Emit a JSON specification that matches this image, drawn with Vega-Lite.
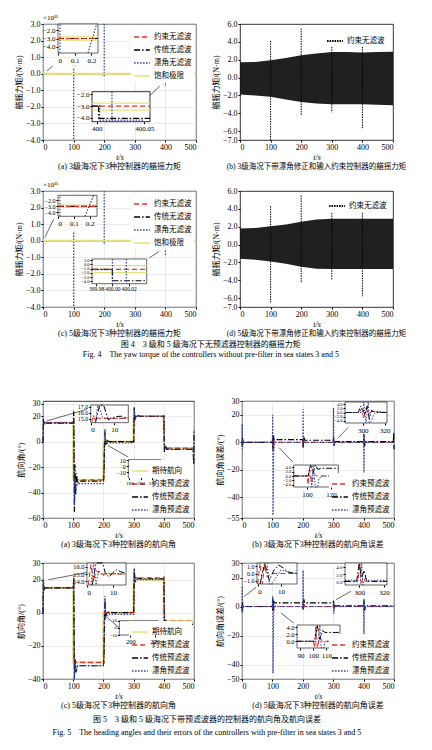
{
"$schema":"https://vega.github.io/schema/vega-lite/v6.json",
"background":"white",
"padding":{"left":15,"top":13,"right":0,"bottom":0},
"config":{
 "font":"Liberation Serif, Noto Sans CJK SC",
 "view":{"stroke":"#000","strokeWidth":0.8},
 "axis":{"labelFont":"Liberation Serif","titleFont":"Liberation Serif, Noto Sans CJK SC","labelFontSize":8,"titleFontSize":8,"titleFontWeight":"normal","labelColor":"#000","titleColor":"#000","tickColor":"#000","tickSize":2,"domain":false,"grid":true,"gridColor":"#d9d9d9","gridWidth":0.5,"labelPadding":1,"titlePadding":2,"labelOverlap":false,"tickCount":20},
 "legend":{"labelFont":"Liberation Serif, Noto Sans CJK SC","labelFontSize":7.5,"labelColor":"#000","symbolType":"stroke","symbolSize":250,"symbolStrokeWidth":1.5,"rowPadding":-1,"padding":2,"fillColor":"white","offset":2,"labelOffset":3},
 "title":{"font":"Liberation Serif, Noto Sans CJK SC","fontSize":8,"fontWeight":"normal","color":"#000","subtitleFont":"Liberation Serif, Noto Sans CJK SC","subtitleFontSize":8,"subtitleColor":"#000"},
 "text":{"font":"Liberation Serif, Noto Sans CJK SC"}
},
"datasets":{
 "f4a":[
  {"s":"传统无滤波","t":0,"t2":500,"y":0,"y2":0},
  {"s":"约束无滤波","t":0,"t2":500,"y":0,"y2":0},
  {"s":"饱和极限","t":0,"t2":500,"y":0,"y2":0},
  {"s":"漂角无滤波","t":100,"t2":100,"y":0.3,"y2":-4},
  {"s":"漂角无滤波","t":200,"t2":200,"y":3,"y2":-0.15},
  {"s":"漂角无滤波","t":300,"t2":300,"y":1,"y2":-0.05},
  {"s":"漂角无滤波","t":400,"t2":400,"y":0.3,"y2":-0.8}],
 "f4a_arr":[{"t":12,"t2":32,"y":0.16,"y2":0.47},{"t":347,"t2":382,"y":-1.35,"y2":-0.74}],
 "f4a_i1":[
  {"s":"饱和极限","t":0,"t2":0.24,"y":-2.8,"y2":-2.8},
  {"s":"饱和极限","t":0,"t2":0.24,"y":-3.2,"y2":-3.2},
  {"s":"传统无滤波","t":0,"t2":0.24,"y":-3,"y2":-3},
  {"s":"约束无滤波","t":0,"t2":0.24,"y":-3,"y2":-3},
  {"s":"漂角无滤波","t":0.012,"t2":0.012,"y":-4.8,"y2":-1.2},
  {"s":"漂角无滤波","t":0.18,"t2":0.232,"y":-4.8,"y2":-1.2}],
 "f4a_i2":[
  {"s":"饱和极限","t":399.995,"t2":400.056,"y":-2.75,"y2":-2.75},
  {"s":"饱和极限","t":399.995,"t2":400.056,"y":-3.35,"y2":-3.35},
  {"s":"约束无滤波","t":399.995,"t2":400.056,"y":-3,"y2":-3},
  {"s":"传统无滤波","t":399.995,"t2":400.002,"y":-3,"y2":-3},
  {"s":"传统无滤波","t":400.002,"t2":400.002,"y":-3,"y2":-4.1},
  {"s":"传统无滤波","t":400.002,"t2":400.056,"y":-4.05,"y2":-4.05},
  {"s":"漂角无滤波","t":400.003,"t2":400.003,"y":-2.9,"y2":-4.2},
  {"s":"漂角无滤波","t":400.003,"t2":400.05,"y":-4.2,"y2":-4.2},
  {"s":"漂角无滤波","t":400.016,"t2":400.016,"y":-1.77,"y2":-4.34}],
 "f4c":[
  {"s":"传统无滤波","t":0,"t2":500,"y":0,"y2":0},
  {"s":"约束无滤波","t":0,"t2":500,"y":0,"y2":0},
  {"s":"饱和极限","t":0,"t2":500,"y":0,"y2":0},
  {"s":"漂角无滤波","t":100,"t2":100,"y":0.5,"y2":-4},
  {"s":"漂角无滤波","t":200,"t2":200,"y":3,"y2":-0.2},
  {"s":"漂角无滤波","t":300,"t2":300,"y":0.8,"y2":0},
  {"s":"漂角无滤波","t":400,"t2":400,"y":0.5,"y2":-0.9}],
 "f4c_arr":[{"t":6,"t2":35,"y":0.2,"y2":1.3},{"t":347,"t2":380,"y":-1.04,"y2":-0.64}],
 "f4c_i1":[
  {"s":"饱和极限","t":0,"t2":0.246,"y":-2.8,"y2":-2.8},
  {"s":"饱和极限","t":0,"t2":0.246,"y":-3.2,"y2":-3.2},
  {"s":"传统无滤波","t":0,"t2":0.246,"y":-3,"y2":-3},
  {"s":"约束无滤波","t":0,"t2":0.246,"y":-3,"y2":-3},
  {"s":"漂角无滤波","t":0.012,"t2":0.012,"y":-4.67,"y2":-1.17},
  {"s":"漂角无滤波","t":0.17,"t2":0.225,"y":-4.67,"y2":-1.17}],
 "f4c_i2":[
  {"s":"饱和极限","t":399.975,"t2":400.042,"y":-0.3,"y2":-0.3},
  {"s":"饱和极限","t":399.975,"t2":400.042,"y":-1.95,"y2":-1.95},
  {"s":"传统无滤波","t":399.975,"t2":400.0,"y":-1.2,"y2":-1.2},
  {"s":"传统无滤波","t":400.0,"t2":400.0,"y":-1.2,"y2":-3.9},
  {"s":"传统无滤波","t":400.0,"t2":400.042,"y":-3.9,"y2":-3.9},
  {"s":"约束无滤波","t":399.975,"t2":400.042,"y":-1.2,"y2":-1.2},
  {"s":"漂角无滤波","t":399.975,"t2":400.0,"y":-1.25,"y2":-1.25},
  {"s":"漂角无滤波","t":400.0,"t2":400.0,"y":1.3,"y2":-4.6},
  {"s":"漂角无滤波","t":400.017,"t2":400.017,"y":1.3,"y2":-4.6}],
 "f4b":[
  {"t":0,"hi":1.7,"lo":-1.9},{"t":50,"hi":1.75,"lo":-2.0},{"t":100,"hi":1.95,"lo":-2.15},{"t":150,"hi":2.2,"lo":-2.45},
  {"t":200,"hi":2.5,"lo":-2.75},{"t":250,"hi":2.7,"lo":-2.9},{"t":300,"hi":2.85,"lo":-3.0},{"t":350,"hi":2.85,"lo":-3.0},
  {"t":400,"hi":2.8,"lo":-3.0},{"t":450,"hi":2.85,"lo":-3.05},{"t":500,"hi":2.9,"lo":-3.1}],
 "f4b_s":[
  {"s":"约束无滤波","t":100,"y":4.1,"y2":-7},{"s":"约束无滤波","t":200,"y":5.5,"y2":-4.3},
  {"s":"约束无滤波","t":300,"y":4.0,"y2":-3.9},{"s":"约束无滤波","t":400,"y":4.3,"y2":-5.8}],
 "f4d":[
  {"t":0,"hi":1.8,"lo":-1.6},{"t":50,"hi":1.85,"lo":-1.7},{"t":100,"hi":2.05,"lo":-1.9},{"t":150,"hi":2.25,"lo":-2.15},
  {"t":200,"hi":2.55,"lo":-2.5},{"t":250,"hi":2.8,"lo":-2.7},{"t":300,"hi":2.9,"lo":-2.75},{"t":350,"hi":2.9,"lo":-2.75},
  {"t":400,"hi":2.9,"lo":-2.75},{"t":450,"hi":2.9,"lo":-2.75},{"t":500,"hi":2.9,"lo":-2.75}],
 "f4d_s":[
  {"s":"约束无滤波","t":100,"y":4.3,"y2":-6.5},{"s":"约束无滤波","t":200,"y":5.5,"y2":-4.2},
  {"s":"约束无滤波","t":300,"y":5.5,"y2":-4.0},{"s":"约束无滤波","t":400,"y":4.4,"y2":-5.8}],
 "f5a":[
  {"s":"期待航向","t":0,"v":15},{"s":"期待航向","t":100,"v":15},{"s":"期待航向","t":100.3,"v":-30},{"s":"期待航向","t":200,"v":-30},{"s":"期待航向","t":200.3,"v":0},{"s":"期待航向","t":300,"v":0},{"s":"期待航向","t":300.3,"v":20},{"s":"期待航向","t":400,"v":20},{"s":"期待航向","t":400.3,"v":-5},{"s":"期待航向","t":500,"v":-5},
  {"s":"约束预滤波","t":0,"v":0},{"s":"约束预滤波","t":2,"v":16},{"s":"约束预滤波","t":4,"v":15},{"s":"约束预滤波","t":100,"v":15},{"s":"约束预滤波","t":101,"v":16},{"s":"约束预滤波","t":103,"v":-31},{"s":"约束预滤波","t":105,"v":-30},{"s":"约束预滤波","t":200,"v":-30},{"s":"约束预滤波","t":201,"v":-31},{"s":"约束预滤波","t":203,"v":1},{"s":"约束预滤波","t":205,"v":0},{"s":"约束预滤波","t":300,"v":0},{"s":"约束预滤波","t":301,"v":-1},{"s":"约束预滤波","t":303,"v":21},{"s":"约束预滤波","t":305,"v":20},{"s":"约束预滤波","t":400,"v":20},{"s":"约束预滤波","t":401,"v":21},{"s":"约束预滤波","t":403,"v":-6},{"s":"约束预滤波","t":405,"v":-5},{"s":"约束预滤波","t":500,"v":-5},
  {"s":"传统预滤波","t":0,"v":0},{"s":"传统预滤波","t":1,"v":18},{"s":"传统预滤波","t":3,"v":13},{"s":"传统预滤波","t":6,"v":15.5},{"s":"传统预滤波","t":10,"v":14.5},{"s":"传统预滤波","t":100,"v":14.5},{"s":"传统预滤波","t":102,"v":24},{"s":"传统预滤波","t":104,"v":-55},{"s":"传统预滤波","t":106,"v":-18},{"s":"传统预滤波","t":108,"v":-42},{"s":"传统预滤波","t":111,"v":-25},{"s":"传统预滤波","t":114,"v":-33},{"s":"传统预滤波","t":120,"v":-31},{"s":"传统预滤波","t":200,"v":-31},{"s":"传统预滤波","t":202,"v":-25},{"s":"传统预滤波","t":205,"v":8},{"s":"传统预滤波","t":208,"v":-3},{"s":"传统预滤波","t":212,"v":1},{"s":"传统预滤波","t":220,"v":0},{"s":"传统预滤波","t":300,"v":0},{"s":"传统预滤波","t":302,"v":27},{"s":"传统预滤波","t":305,"v":17},{"s":"传统预滤波","t":310,"v":21},{"s":"传统预滤波","t":320,"v":20},{"s":"传统预滤波","t":400,"v":20},{"s":"传统预滤波","t":402,"v":-8},{"s":"传统预滤波","t":405,"v":-3},{"s":"传统预滤波","t":410,"v":-6},{"s":"传统预滤波","t":497,"v":-6},{"s":"传统预滤波","t":499,"v":-18},{"s":"传统预滤波","t":500,"v":8},
  {"s":"漂角预滤波","t":0,"v":0},{"s":"漂角预滤波","t":1.5,"v":17},{"s":"漂角预滤波","t":3,"v":14},{"s":"漂角预滤波","t":6,"v":15},{"s":"漂角预滤波","t":100,"v":15},{"s":"漂角预滤波","t":102,"v":18},{"s":"漂角预滤波","t":104,"v":-50},{"s":"漂角预滤波","t":106,"v":-28},{"s":"漂角预滤波","t":109,"v":-36},{"s":"漂角预滤波","t":115,"v":-33},{"s":"漂角预滤波","t":200,"v":-33},{"s":"漂角预滤波","t":202,"v":-20},{"s":"漂角预滤波","t":205,"v":10},{"s":"漂角预滤波","t":208,"v":-2},{"s":"漂角预滤波","t":215,"v":-1},{"s":"漂角预滤波","t":300,"v":-1},{"s":"漂角预滤波","t":302,"v":25},{"s":"漂角预滤波","t":305,"v":18},{"s":"漂角预滤波","t":310,"v":20},{"s":"漂角预滤波","t":400,"v":20},{"s":"漂角预滤波","t":402,"v":-7},{"s":"漂角预滤波","t":406,"v":-4},{"s":"漂角预滤波","t":410,"v":-6},{"s":"漂角预滤波","t":497,"v":-6},{"s":"漂角预滤波","t":499,"v":-15},{"s":"漂角预滤波","t":500,"v":5}],
 "f5a_arr":[{"t":12,"t2":146,"v":16.3,"v2":25.5},{"t":215,"t2":282,"v":-3,"v2":-12}],
 "f5a_i1":[
  {"s":"期待航向","t":0.3,"v":14.3},{"s":"期待航向","t":0.4,"v":15},{"s":"期待航向","t":16,"v":15},
  {"s":"约束预滤波","t":0.5,"v":14.3},{"s":"约束预滤波","t":1,"v":15.6},{"s":"约束预滤波","t":2,"v":14.6},{"s":"约束预滤波","t":3,"v":15.1},{"s":"约束预滤波","t":5,"v":15},{"s":"约束预滤波","t":16,"v":15},
  {"s":"传统预滤波","t":2,"v":14.3},{"s":"传统预滤波","t":3.5,"v":16.8},{"s":"传统预滤波","t":4,"v":17.3},{"s":"传统预滤波","t":5.5,"v":17.3},{"s":"传统预滤波","t":6.5,"v":16},{"s":"传统预滤波","t":7.5,"v":14.8},{"s":"传统预滤波","t":9,"v":15.1},{"s":"传统预滤波","t":11,"v":15.35},{"s":"传统预滤波","t":13,"v":15.4},{"s":"传统预滤波","t":14.5,"v":15.2},{"s":"传统预滤波","t":16,"v":15.1},
  {"s":"漂角预滤波","t":2,"v":14.3},{"s":"漂角预滤波","t":3,"v":17.3},{"s":"漂角预滤波","t":4,"v":16.5},{"s":"漂角预滤波","t":5,"v":15.2},{"s":"漂角预滤波","t":7,"v":15.0},{"s":"漂角预滤波","t":9,"v":15.1},{"s":"漂角预滤波","t":16,"v":15.05}],
 "f5a_i2":[
  {"s":"期待航向","t":199.9,"v":-19},{"s":"期待航向","t":200,"v":0},{"s":"期待航向","t":236,"v":0},
  {"s":"约束预滤波","t":200.5,"v":-19},{"s":"约束预滤波","t":202,"v":1},{"s":"约束预滤波","t":204,"v":0},{"s":"约束预滤波","t":236,"v":0},
  {"s":"传统预滤波","t":201,"v":-19},{"s":"传统预滤波","t":203,"v":4},{"s":"传统预滤波","t":205,"v":10},{"s":"传统预滤波","t":207,"v":-3},{"s":"传统预滤波","t":210,"v":1},{"s":"传统预滤波","t":215,"v":0},{"s":"传统预滤波","t":236,"v":0},
  {"s":"漂角预滤波","t":202,"v":-19},{"s":"漂角预滤波","t":204,"v":6},{"s":"漂角预滤波","t":206,"v":11},{"s":"漂角预滤波","t":208,"v":-2},{"s":"漂角预滤波","t":212,"v":0.5},{"s":"漂角预滤波","t":220,"v":0},{"s":"漂角预滤波","t":236,"v":0}],
 "f5b":[
  {"s":"约束预滤波","t":0,"v":0},{"s":"约束预滤波","t":1,"v":3},{"s":"约束预滤波","t":2,"v":-2},{"s":"约束预滤波","t":4,"v":0},{"s":"约束预滤波","t":100,"v":0},{"s":"约束预滤波","t":101,"v":-4},{"s":"约束预滤波","t":102,"v":4},{"s":"约束预滤波","t":104,"v":-3},{"s":"约束预滤波","t":106,"v":1},{"s":"约束预滤波","t":108,"v":0},{"s":"约束预滤波","t":200,"v":0},{"s":"约束预滤波","t":201,"v":-3},{"s":"约束预滤波","t":203,"v":3},{"s":"约束预滤波","t":205,"v":0},{"s":"约束预滤波","t":300,"v":0},{"s":"约束预滤波","t":301,"v":2},{"s":"约束预滤波","t":303,"v":-3},{"s":"约束预滤波","t":305,"v":0},{"s":"约束预滤波","t":400,"v":0},{"s":"约束预滤波","t":401,"v":3},{"s":"约束预滤波","t":403,"v":-3},{"s":"约束预滤波","t":405,"v":0},{"s":"约束预滤波","t":500,"v":0},
  {"s":"传统预滤波","t":0,"v":0},{"s":"传统预滤波","t":1,"v":-3},{"s":"传统预滤波","t":2,"v":3},{"s":"传统预滤波","t":3,"v":-1},{"s":"传统预滤波","t":5,"v":0},{"s":"传统预滤波","t":100,"v":0},{"s":"传统预滤波","t":101,"v":5},{"s":"传统预滤波","t":102,"v":-6},{"s":"传统预滤波","t":104,"v":5},{"s":"传统预滤波","t":106,"v":2},{"s":"传统预滤波","t":200,"v":2},{"s":"传统预滤波","t":201,"v":-4},{"s":"传统预滤波","t":203,"v":4},{"s":"传统预滤波","t":206,"v":1.5},{"s":"传统预滤波","t":300,"v":1.5},{"s":"传统预滤波","t":301,"v":4},{"s":"传统预滤波","t":303,"v":-2},{"s":"传统预滤波","t":306,"v":0.5},{"s":"传统预滤波","t":400,"v":0.5},{"s":"传统预滤波","t":401,"v":6},{"s":"传统预滤波","t":403,"v":-3},{"s":"传统预滤波","t":406,"v":0.5},{"s":"传统预滤波","t":498,"v":0.5},{"s":"传统预滤波","t":499,"v":7},{"s":"传统预滤波","t":500,"v":-5},
  {"s":"漂角预滤波","t":0,"v":0},{"s":"漂角预滤波","t":0.5,"v":13},{"s":"漂角预滤波","t":1.5,"v":-5},{"s":"漂角预滤波","t":3,"v":2},{"s":"漂角预滤波","t":5,"v":0},{"s":"漂角预滤波","t":100,"v":0},{"s":"漂角预滤波","t":101,"v":20},{"s":"漂角预滤波","t":102,"v":-53},{"s":"漂角预滤波","t":104,"v":-10},{"s":"漂角预滤波","t":106,"v":-2},{"s":"漂角预滤波","t":110,"v":0},{"s":"漂角预滤波","t":200,"v":0},{"s":"漂角预滤波","t":201,"v":24},{"s":"漂角预滤波","t":202,"v":-2},{"s":"漂角预滤波","t":204,"v":1},{"s":"漂角预滤波","t":207,"v":0},{"s":"漂角预滤波","t":300,"v":0},{"s":"漂角预滤波","t":301,"v":25},{"s":"漂角预滤波","t":302,"v":-3},{"s":"漂角预滤波","t":304,"v":1},{"s":"漂角预滤波","t":307,"v":0},{"s":"漂角预滤波","t":400,"v":0},{"s":"漂角预滤波","t":401,"v":-25},{"s":"漂角预滤波","t":402,"v":4},{"s":"漂角预滤波","t":404,"v":-1},{"s":"漂角预滤波","t":407,"v":0},{"s":"漂角预滤波","t":500,"v":0}],
 "f5b_arr":[{"t":317,"t2":348,"v":3.3,"v2":10.6},{"t":122,"t2":167,"v":-3.9,"v2":-14.3}],
 "f5b_i1":[
  {"s":"约束预滤波","t":284,"v":0},{"s":"约束预滤波","t":297,"v":0},{"s":"约束预滤波","t":299,"v":2},{"s":"约束预滤波","t":301,"v":-3},{"s":"约束预滤波","t":303,"v":2},{"s":"约束预滤波","t":305,"v":-1},{"s":"约束预滤波","t":308,"v":0.5},{"s":"约束预滤波","t":322,"v":0},
  {"s":"传统预滤波","t":284,"v":0},{"s":"传统预滤波","t":296,"v":0},{"s":"传统预滤波","t":298,"v":3},{"s":"传统预滤波","t":300,"v":1.5},{"s":"传统预滤波","t":302,"v":-1},{"s":"传统预滤波","t":304,"v":3},{"s":"传统预滤波","t":306,"v":-3},{"s":"传统预滤波","t":308,"v":1},{"s":"传统预滤波","t":312,"v":0},{"s":"传统预滤波","t":322,"v":0},
  {"s":"漂角预滤波","t":284,"v":0},{"s":"漂角预滤波","t":300,"v":0},{"s":"漂角预滤波","t":301,"v":5},{"s":"漂角预滤波","t":303,"v":-5},{"s":"漂角预滤波","t":305,"v":5},{"s":"漂角预滤波","t":306,"v":-5},{"s":"漂角预滤波","t":308,"v":-4},{"s":"漂角预滤波","t":310,"v":-1},{"s":"漂角预滤波","t":313,"v":0.5},{"s":"漂角预滤波","t":322,"v":0}],
 "f5b_i2":[
  {"s":"约束预滤波","t":89,"v":0},{"s":"约束预滤波","t":100,"v":0},{"s":"约束预滤波","t":101,"v":-4},{"s":"约束预滤波","t":102,"v":4},{"s":"约束预滤波","t":104,"v":-3},{"s":"约束预滤波","t":106,"v":1},{"s":"约束预滤波","t":108,"v":0},{"s":"约束预滤波","t":126,"v":0},
  {"s":"传统预滤波","t":89,"v":0},{"s":"传统预滤波","t":101,"v":0},{"s":"传统预滤波","t":103,"v":5},{"s":"传统预滤波","t":105,"v":1},{"s":"传统预滤波","t":107,"v":5},{"s":"传统预滤波","t":109,"v":3},{"s":"传统预滤波","t":112,"v":3.5},{"s":"传统预滤波","t":126,"v":3.5},
  {"s":"漂角预滤波","t":89,"v":0},{"s":"漂角预滤波","t":103,"v":0},{"s":"漂角预滤波","t":104,"v":-5},{"s":"漂角预滤波","t":105,"v":5},{"s":"漂角预滤波","t":107,"v":-5},{"s":"漂角预滤波","t":109,"v":-5},{"s":"漂角预滤波","t":110,"v":-1},{"s":"漂角预滤波","t":113,"v":0},{"s":"漂角预滤波","t":126,"v":0}],
 "f5c":[
  {"s":"期待航向","t":0,"v":15},{"s":"期待航向","t":100,"v":15},{"s":"期待航向","t":100.3,"v":-30},{"s":"期待航向","t":200,"v":-30},{"s":"期待航向","t":200.3,"v":0},{"s":"期待航向","t":300,"v":0},{"s":"期待航向","t":300.3,"v":20},{"s":"期待航向","t":400,"v":20},{"s":"期待航向","t":400.3,"v":-5},{"s":"期待航向","t":500,"v":-5},
  {"s":"约束预滤波","t":0,"v":0},{"s":"约束预滤波","t":2,"v":16},{"s":"约束预滤波","t":4,"v":15},{"s":"约束预滤波","t":100,"v":15},{"s":"约束预滤波","t":101,"v":16},{"s":"约束预滤波","t":103,"v":-31},{"s":"约束预滤波","t":105,"v":-30},{"s":"约束预滤波","t":200,"v":-30},{"s":"约束预滤波","t":201,"v":-31},{"s":"约束预滤波","t":203,"v":1},{"s":"约束预滤波","t":205,"v":0},{"s":"约束预滤波","t":300,"v":0},{"s":"约束预滤波","t":301,"v":-1},{"s":"约束预滤波","t":303,"v":21.5},{"s":"约束预滤波","t":305,"v":21},{"s":"约束预滤波","t":400,"v":21},{"s":"约束预滤波","t":401,"v":22},{"s":"约束预滤波","t":403,"v":-6},{"s":"约束预滤波","t":405,"v":-5},{"s":"约束预滤波","t":500,"v":-5},
  {"s":"传统预滤波","t":0,"v":0},{"s":"传统预滤波","t":1,"v":20},{"s":"传统预滤波","t":3,"v":13},{"s":"传统预滤波","t":6,"v":15},{"s":"传统预滤波","t":100,"v":15},{"s":"传统预滤波","t":102,"v":21},{"s":"传统预滤波","t":104,"v":-40},{"s":"传统预滤波","t":106,"v":-28},{"s":"传统预滤波","t":109,"v":-36},{"s":"传统预滤波","t":114,"v":-32},{"s":"传统预滤波","t":200,"v":-32},{"s":"传统预滤波","t":202,"v":-28},{"s":"传统预滤波","t":205,"v":8},{"s":"传统预滤波","t":208,"v":-2},{"s":"传统预滤波","t":212,"v":0.5},{"s":"传统预滤波","t":220,"v":0},{"s":"传统预滤波","t":300,"v":0},{"s":"传统预滤波","t":302,"v":26},{"s":"传统预滤波","t":305,"v":19},{"s":"传统预滤波","t":310,"v":21},{"s":"传统预滤波","t":320,"v":20.5},{"s":"传统预滤波","t":400,"v":20.5},{"s":"传统预滤波","t":402,"v":-9},{"s":"传统预滤波","t":405,"v":-5},{"s":"传统预滤波","t":410,"v":-7},{"s":"传统预滤波","t":500,"v":-7},
  {"s":"漂角预滤波","t":0,"v":0},{"s":"漂角预滤波","t":1.5,"v":20},{"s":"漂角预滤波","t":3,"v":14},{"s":"漂角预滤波","t":6,"v":15},{"s":"漂角预滤波","t":100,"v":15},{"s":"漂角预滤波","t":102,"v":22},{"s":"漂角预滤波","t":104,"v":-40},{"s":"漂角预滤波","t":106,"v":-30},{"s":"漂角预滤波","t":110,"v":-34},{"s":"漂角预滤波","t":116,"v":-32},{"s":"漂角预滤波","t":200,"v":-32},{"s":"漂角预滤波","t":202,"v":-20},{"s":"漂角预滤波","t":205,"v":10},{"s":"漂角预滤波","t":208,"v":-3},{"s":"漂角预滤波","t":215,"v":-1},{"s":"漂角预滤波","t":300,"v":-1},{"s":"漂角预滤波","t":302,"v":27},{"s":"漂角预滤波","t":305,"v":18},{"s":"漂角预滤波","t":310,"v":20},{"s":"漂角预滤波","t":400,"v":20},{"s":"漂角预滤波","t":402,"v":-9},{"s":"漂角预滤波","t":406,"v":-4},{"s":"漂角预滤波","t":410,"v":-6},{"s":"漂角预滤波","t":500,"v":-6}],
 "f5c_arr":[{"t":18,"t2":148,"v":19.9,"v2":24.4},{"t":213,"t2":252,"v":-3,"v2":-9}],
 "f5c_i1":[
  {"s":"期待航向","t":0.3,"v":13.5},{"s":"期待航向","t":0.4,"v":15},{"s":"期待航向","t":15,"v":15},
  {"s":"约束预滤波","t":0.5,"v":13.5},{"s":"约束预滤波","t":1.5,"v":16.3},{"s":"约束预滤波","t":2.5,"v":14},{"s":"约束预滤波","t":3.5,"v":15.5},{"s":"约束预滤波","t":5,"v":15},{"s":"约束预滤波","t":15,"v":15},
  {"s":"传统预滤波","t":2,"v":13.5},{"s":"传统预滤波","t":3.5,"v":16.5},{"s":"传统预滤波","t":6,"v":16.5},{"s":"传统预滤波","t":7,"v":15.2},{"s":"传统预滤波","t":8.5,"v":14.6},{"s":"传统预滤波","t":10,"v":15.2},{"s":"传统预滤波","t":11.5,"v":15.6},{"s":"传统预滤波","t":13,"v":15.3},{"s":"传统预滤波","t":15,"v":15.1},
  {"s":"漂角预滤波","t":1.5,"v":13.5},{"s":"漂角预滤波","t":2.5,"v":16.5},{"s":"漂角预滤波","t":3.5,"v":13.5},{"s":"漂角预滤波","t":4.5,"v":15.5},{"s":"漂角预滤波","t":6,"v":14.8},{"s":"漂角预滤波","t":8,"v":15.1},{"s":"漂角预滤波","t":15,"v":15}],
 "f5c_i2":[
  {"s":"期待航向","t":199.9,"v":-10},{"s":"期待航向","t":200,"v":0},{"s":"期待航向","t":223,"v":0},
  {"s":"约束预滤波","t":200.5,"v":-10},{"s":"约束预滤波","t":202,"v":1},{"s":"约束预滤波","t":204,"v":0},{"s":"约束预滤波","t":223,"v":0},
  {"s":"传统预滤波","t":201,"v":-10},{"s":"传统预滤波","t":203,"v":9},{"s":"传统预滤波","t":205,"v":-3},{"s":"传统预滤波","t":208,"v":-4},{"s":"传统预滤波","t":223,"v":-4},
  {"s":"漂角预滤波","t":203,"v":-10},{"s":"漂角预滤波","t":205,"v":10},{"s":"漂角预滤波","t":206.5,"v":-2},{"s":"漂角预滤波","t":209,"v":-1},{"s":"漂角预滤波","t":223,"v":-1}],
 "f5d":[
  {"s":"约束预滤波","t":0,"v":0},{"s":"约束预滤波","t":1,"v":2},{"s":"约束预滤波","t":2,"v":-2},{"s":"约束预滤波","t":4,"v":0},{"s":"约束预滤波","t":100,"v":0},{"s":"约束预滤波","t":101,"v":-3},{"s":"约束预滤波","t":102,"v":4},{"s":"约束预滤波","t":104,"v":-2},{"s":"约束预滤波","t":106,"v":0},{"s":"约束预滤波","t":200,"v":0},{"s":"约束预滤波","t":201,"v":-2},{"s":"约束预滤波","t":203,"v":2},{"s":"约束预滤波","t":205,"v":0},{"s":"约束预滤波","t":300,"v":0},{"s":"约束预滤波","t":301,"v":2},{"s":"约束预滤波","t":303,"v":-2},{"s":"约束预滤波","t":305,"v":0},{"s":"约束预滤波","t":400,"v":0},{"s":"约束预滤波","t":401,"v":2},{"s":"约束预滤波","t":403,"v":-2},{"s":"约束预滤波","t":405,"v":0},{"s":"约束预滤波","t":500,"v":0},
  {"s":"传统预滤波","t":0,"v":0},{"s":"传统预滤波","t":1,"v":-4},{"s":"传统预滤波","t":2,"v":3},{"s":"传统预滤波","t":4,"v":0},{"s":"传统预滤波","t":100,"v":0},{"s":"传统预滤波","t":101,"v":6},{"s":"传统预滤波","t":102,"v":-3},{"s":"传统预滤波","t":104,"v":4},{"s":"传统预滤波","t":106,"v":2.5},{"s":"传统预滤波","t":200,"v":2.5},{"s":"传统预滤波","t":201,"v":-2},{"s":"传统预滤波","t":203,"v":5},{"s":"传统预滤波","t":206,"v":2.5},{"s":"传统预滤波","t":300,"v":2.5},{"s":"传统预滤波","t":301,"v":4},{"s":"传统预滤波","t":303,"v":-1},{"s":"传统预滤波","t":306,"v":0.5},{"s":"传统预滤波","t":400,"v":0.5},{"s":"传统预滤波","t":401,"v":5},{"s":"传统预滤波","t":403,"v":-3},{"s":"传统预滤波","t":406,"v":0.5},{"s":"传统预滤波","t":500,"v":0.5},
  {"s":"漂角预滤波","t":0,"v":0},{"s":"漂角预滤波","t":0.5,"v":14},{"s":"漂角预滤波","t":1.5,"v":-4},{"s":"漂角预滤波","t":3,"v":1},{"s":"漂角预滤波","t":5,"v":0},{"s":"漂角预滤波","t":100,"v":0},{"s":"漂角预滤波","t":101,"v":7},{"s":"漂角预滤波","t":102,"v":-46},{"s":"漂角预滤波","t":104,"v":-5},{"s":"漂角预滤波","t":106,"v":1},{"s":"漂角预滤波","t":110,"v":0},{"s":"漂角预滤波","t":200,"v":0},{"s":"漂角预滤波","t":201,"v":25},{"s":"漂角预滤波","t":202,"v":-2},{"s":"漂角预滤波","t":204,"v":1},{"s":"漂角预滤波","t":207,"v":0},{"s":"漂角预滤波","t":300,"v":0},{"s":"漂角预滤波","t":301,"v":3},{"s":"漂角预滤波","t":302,"v":-5},{"s":"漂角预滤波","t":304,"v":1},{"s":"漂角预滤波","t":307,"v":0},{"s":"漂角预滤波","t":400,"v":0},{"s":"漂角预滤波","t":401,"v":-22},{"s":"漂角预滤波","t":402,"v":4},{"s":"漂角预滤波","t":404,"v":-1},{"s":"漂角预滤波","t":407,"v":0},{"s":"漂角预滤波","t":500,"v":0}],
 "f5d_arr":[{"t":7.6,"t2":46,"v":7,"v2":13.2},{"t":309,"t2":359,"v":4.7,"v2":10.5},{"t":128,"t2":170,"v":-4.5,"v2":-11.4}],
 "f5d_i1":[
  {"s":"约束预滤波","t":0,"v":-1.5},{"s":"约束预滤波","t":1,"v":1.5},{"s":"约束预滤波","t":2,"v":-1.5},{"s":"约束预滤波","t":3,"v":1.2},{"s":"约束预滤波","t":4,"v":-0.5},{"s":"约束预滤波","t":6,"v":0},{"s":"约束预滤波","t":16.9,"v":0},
  {"s":"传统预滤波","t":1,"v":-1.5},{"s":"传统预滤波","t":3,"v":1.5},{"s":"传统预滤波","t":5,"v":-1},{"s":"传统预滤波","t":7,"v":0.5},{"s":"传统预滤波","t":9,"v":1.2},{"s":"传统预滤波","t":11,"v":0.8},{"s":"传统预滤波","t":13,"v":0.2},{"s":"传统预滤波","t":16.9,"v":0},
  {"s":"漂角预滤波","t":4,"v":1.5},{"s":"漂角预滤波","t":5,"v":-1.5},{"s":"漂角预滤波","t":6,"v":-1.5},{"s":"漂角预滤波","t":8,"v":-0.5},{"s":"漂角预滤波","t":10,"v":0.5},{"s":"漂角预滤波","t":12,"v":0.3},{"s":"漂角预滤波","t":16.9,"v":0}],
 "f5d_i2":[
  {"s":"约束预滤波","t":288.6,"v":0},{"s":"约束预滤波","t":299,"v":0},{"s":"约束预滤波","t":300.5,"v":5},{"s":"约束预滤波","t":301.5,"v":-1},{"s":"约束预滤波","t":303,"v":1},{"s":"约束预滤波","t":305,"v":0},{"s":"约束预滤波","t":322.4,"v":0},
  {"s":"传统预滤波","t":288.6,"v":0},{"s":"传统预滤波","t":298,"v":0},{"s":"传统预滤波","t":300,"v":5},{"s":"传统预滤波","t":302,"v":1},{"s":"传统预滤波","t":304,"v":3},{"s":"传统预滤波","t":306,"v":0},{"s":"传统预滤波","t":322.4,"v":0},
  {"s":"漂角预滤波","t":288.6,"v":0.3},{"s":"漂角预滤波","t":301,"v":0.3},{"s":"漂角预滤波","t":302,"v":5},{"s":"漂角预滤波","t":303,"v":-1},{"s":"漂角预滤波","t":305,"v":1},{"s":"漂角预滤波","t":307,"v":0.3},{"s":"漂角预滤波","t":322.4,"v":0.3}],
 "f5d_i3":[
  {"s":"约束预滤波","t":87.4,"v":0},{"s":"约束预滤波","t":100,"v":0},{"s":"约束预滤波","t":101,"v":-1.9},{"s":"约束预滤波","t":102,"v":4.6},{"s":"约束预滤波","t":103,"v":-1.9},{"s":"约束预滤波","t":105,"v":1},{"s":"约束预滤波","t":107,"v":0},{"s":"约束预滤波","t":120.5,"v":0},
  {"s":"传统预滤波","t":87.4,"v":0},{"s":"传统预滤波","t":101,"v":0},{"s":"传统预滤波","t":103,"v":4.6},{"s":"传统预滤波","t":105,"v":0.5},{"s":"传统预滤波","t":107,"v":3},{"s":"传统预滤波","t":109,"v":2.5},{"s":"传统预滤波","t":120.5,"v":2.5},
  {"s":"漂角预滤波","t":87.4,"v":0},{"s":"漂角预滤波","t":104,"v":0},{"s":"漂角预滤波","t":105,"v":4.6},{"s":"漂角预滤波","t":106,"v":-1.9},{"s":"漂角预滤波","t":108,"v":-1.9},{"s":"漂角预滤波","t":109,"v":0},{"s":"漂角预滤波","t":112,"v":0},{"s":"漂角预滤波","t":120.5,"v":0}]
},
"spacing":36,
"resolve":{"scale":{"color":"independent","strokeDash":"independent"}},
"vconcat":[
 {"title":{"text":"图 4　3 级和 5 级海况下无预滤器控制器的艏摇力矩","subtitle":"Fig. 4　The yaw torque of the controllers without pre-filter in sea states 3 and 5","orient":"bottom","anchor":"middle","frame":"bounds","offset":3,"subtitlePadding":2},
  "spacing":8,
  "resolve":{"scale":{"color":"independent","strokeDash":"independent"}},
  "vconcat":[
  {"spacing":14,"resolve":{"scale":{"color":"independent","strokeDash":"independent"}},"hconcat":[
   {"width":153,"height":116,
    "title":{"text":"(a) 3级海况下3种控制器的艏摇力矩","orient":"bottom","anchor":"middle","frame":"group","offset":2},
    "resolve":{"scale":{"x":"independent","y":"independent"}},
    "layer":[
     {"layer":[
      {"data":{"name":"f4a"},"transform":[{"filter":"datum.s!=='饱和极限'"}],"mark":{"type":"rule","strokeWidth":1.2},"encoding":{
        "x":{"field":"t","type":"quantitative","scale":{"domain":[0,500],"nice":false},"axis":{"title":"t/s","titleFontStyle":"italic","values":[0,100,200,300,400,500],"labelOverlap":false,"tickCount":20}},
        "x2":{"field":"t2"},
        "y":{"field":"y","type":"quantitative","scale":{"domain":[-4,3],"nice":false,"zero":false},"axis":{"title":"艏摇力矩/(N·m)","values":[-4,-3,-2,-1,0,1,2,3],"labelOverlap":false,"tickCount":20}},
        "y2":{"field":"y2"},
        "color":{"field":"s","type":"nominal","scale":{"domain":["约束无滤波","传统无滤波","漂角无滤波","饱和极限"],"range":["#e4302a","#000000","#2f3f9e","#e3e37a"]},"legend":{"orient":"top-right","title":null}},
        "strokeDash":{"field":"s","type":"nominal","scale":{"domain":["约束无滤波","传统无滤波","漂角无滤波","饱和极限"],"range":[[5,3],[6,2,1.5,2],[1.5,1.5],[1,0]]},"legend":{"orient":"top-right","title":null}}}},
      {"data":{"name":"f4a"},"transform":[{"filter":"datum.s==='饱和极限'"}],"mark":{"type":"rule","strokeWidth":2},"encoding":{
        "x":{"field":"t","type":"quantitative"},"x2":{"field":"t2"},"y":{"field":"y","type":"quantitative"},"y2":{"field":"y2"},
        "color":{"field":"s","type":"nominal","scale":{"domain":["约束无滤波","传统无滤波","漂角无滤波","饱和极限"],"range":["#e4302a","#000000","#2f3f9e","#e3e37a"]},"legend":{"orient":"top-right","title":null}},
        "strokeDash":{"field":"s","type":"nominal","scale":{"domain":["约束无滤波","传统无滤波","漂角无滤波","饱和极限"],"range":[[5,3],[6,2,1.5,2],[1.5,1.5],[1,0]]},"legend":{"orient":"top-right","title":null}}}},
      {"data":{"name":"f4a_arr"},"mark":{"type":"rule","color":"#000","strokeWidth":0.6},"encoding":{"x":{"field":"t","type":"quantitative"},"x2":{"field":"t2"},"y":{"field":"y","type":"quantitative"},"y2":{"field":"y2"}}},
      {"data":{"values":[{}]},"mark":{"type":"text","text":"×10¹¹","align":"left","baseline":"bottom","dy":-3,"fontSize":7},"encoding":{"x":{"datum":0,"type":"quantitative"},"y":{"datum":3,"type":"quantitative"}}}
     ]},
     {"layer":[
      {"data":{"values":[{}]},"mark":{"type":"rect","fill":"white","stroke":"#000","strokeWidth":0.6},"encoding":{
        "x":{"datum":0,"type":"quantitative","scale":{"domain":[0,0.24],"range":[15,55],"nice":false,"zero":false},"axis":{"orient":"bottom","offset":-87,"values":[0,0.1,0.2],"format":"~g","grid":false,"title":null,"labelFontSize":7,"zindex":1,"labelOverlap":false,"tickCount":20}},
        "x2":{"datum":0.24},
        "y":{"datum":-4.8,"type":"quantitative","scale":{"domain":[-4.8,-1.2],"range":[29,0],"nice":false,"zero":false},"axis":{"orient":"left","offset":-15,"values":[-4,-3,-2],"grid":false,"title":null,"labelFontSize":7,"zindex":1,"labelOverlap":false,"tickCount":20}},
        "y2":{"datum":-1.2}}},
      {"data":{"name":"f4a_i1"},"mark":{"type":"rule","strokeWidth":1.2},"encoding":{
        "x":{"field":"t","type":"quantitative"},"x2":{"field":"t2"},"y":{"field":"y","type":"quantitative"},"y2":{"field":"y2"},
        "color":{"field":"s","type":"nominal","scale":{"domain":["约束无滤波","传统无滤波","漂角无滤波","饱和极限"],"range":["#e4302a","#000000","#2f3f9e","#e3e37a"]},"legend":{"orient":"top-right","title":null}},
        "strokeDash":{"field":"s","type":"nominal","scale":{"domain":["约束无滤波","传统无滤波","漂角无滤波","饱和极限"],"range":[[5,3],[6,2,1.5,2],[1.5,1.5],[1,0]]},"legend":{"orient":"top-right","title":null}}}}
     ]},
     {"layer":[
      {"data":{"values":[{}]},"mark":{"type":"rect","fill":"white","stroke":"#000","strokeWidth":0.8},"encoding":{
        "x":{"datum":399.995,"type":"quantitative","scale":{"domain":[399.995,400.056],"range":[49,107],"nice":false,"zero":false},"axis":{"orient":"bottom","offset":-18.3,"values":[400,400.05],"format":"~f","grid":false,"title":null,"labelFontSize":7,"zindex":1,"labelOverlap":false,"tickCount":20}},
        "x2":{"datum":400.056},
        "y":{"datum":-4.34,"type":"quantitative","scale":{"domain":[-4.34,-1.77],"range":[97.7,67.7],"nice":false,"zero":false},"axis":{"orient":"left","offset":-49,"values":[-4,-3,-2],"grid":false,"title":null,"labelFontSize":7,"zindex":1,"labelOverlap":false,"tickCount":20}},
        "y2":{"datum":-1.77}}},
      {"data":{"name":"f4a_i2"},"mark":{"type":"rule","strokeWidth":1.2},"encoding":{
        "x":{"field":"t","type":"quantitative"},"x2":{"field":"t2"},"y":{"field":"y","type":"quantitative"},"y2":{"field":"y2"},
        "color":{"field":"s","type":"nominal","scale":{"domain":["约束无滤波","传统无滤波","漂角无滤波","饱和极限"],"range":["#e4302a","#000000","#2f3f9e","#e3e37a"]},"legend":{"orient":"top-right","title":null}},
        "strokeDash":{"field":"s","type":"nominal","scale":{"domain":["约束无滤波","传统无滤波","漂角无滤波","饱和极限"],"range":[[5,3],[6,2,1.5,2],[1.5,1.5],[1,0]]},"legend":{"orient":"top-right","title":null}}}}
     ]}
    ]},
   {"width":153,"height":116,
    "title":{"text":"(b) 3级海况下带漂角修正和输入约束控制器的艏摇力矩","orient":"bottom","anchor":"middle","frame":"group","offset":2,"fontSize":7.5},
    "layer":[
     {"data":{"name":"f4b"},"mark":{"type":"area","color":"#141414","opacity":0.95},"encoding":{
       "x":{"field":"t","type":"quantitative","scale":{"domain":[0,500],"nice":false},"axis":{"title":"t/s","titleFontStyle":"italic","values":[0,100,200,300,400,500],"grid":false,"labelOverlap":false,"tickCount":20}},
       "y":{"field":"hi","type":"quantitative","scale":{"domain":[-7,6],"nice":false,"zero":false},"axis":{"title":"艏摇力矩/(N·m)","values":[-7,-6,-4,-2,0,2,4,6],"grid":false,"labelOverlap":false,"tickCount":20}},
       "y2":{"field":"lo"}}},
     {"data":{"name":"f4b_s"},"mark":{"type":"rule","strokeWidth":1},"encoding":{
       "x":{"field":"t","type":"quantitative"},"y":{"field":"y","type":"quantitative"},"y2":{"field":"y2"},
       "color":{"field":"s","type":"nominal","scale":{"domain":["约束无滤波"],"range":["#000000"]},"legend":{"orient":"top-right","title":null,"offset":6,"symbolStrokeWidth":2}},
       "strokeDash":{"field":"s","type":"nominal","scale":{"domain":["约束无滤波"],"range":[[1.5,1]]},"legend":{"orient":"top-right","title":null,"offset":6}}}}
    ]}
  ]},
  {"spacing":14,"resolve":{"scale":{"color":"independent","strokeDash":"independent"}},"hconcat":[
   {"width":153,"height":116,
    "title":{"text":"(c) 5级海况下3种控制器的艏摇力矩","orient":"bottom","anchor":"middle","frame":"group","offset":2},
    "resolve":{"scale":{"x":"independent","y":"independent"}},
    "layer":[
     {"layer":[
      {"data":{"name":"f4c"},"transform":[{"filter":"datum.s!=='饱和极限'"}],"mark":{"type":"rule","strokeWidth":1.2},"encoding":{
        "x":{"field":"t","type":"quantitative","scale":{"domain":[0,500],"nice":false},"axis":{"title":"t/s","titleFontStyle":"italic","values":[0,100,200,300,400,500],"labelOverlap":false,"tickCount":20}},
        "x2":{"field":"t2"},
        "y":{"field":"y","type":"quantitative","scale":{"domain":[-4,3],"nice":false,"zero":false},"axis":{"title":"艏摇力矩/(N·m)","values":[-4,-3,-2,-1,0,1,2,3],"labelOverlap":false,"tickCount":20}},
        "y2":{"field":"y2"},
        "color":{"field":"s","type":"nominal","scale":{"domain":["约束无滤波","传统无滤波","漂角无滤波","饱和极限"],"range":["#e4302a","#000000","#2f3f9e","#e3e37a"]},"legend":{"orient":"top-right","title":null}},
        "strokeDash":{"field":"s","type":"nominal","scale":{"domain":["约束无滤波","传统无滤波","漂角无滤波","饱和极限"],"range":[[5,3],[6,2,1.5,2],[1.5,1.5],[1,0]]},"legend":{"orient":"top-right","title":null}}}},
      {"data":{"name":"f4c"},"transform":[{"filter":"datum.s==='饱和极限'"}],"mark":{"type":"rule","strokeWidth":2},"encoding":{
        "x":{"field":"t","type":"quantitative"},"x2":{"field":"t2"},"y":{"field":"y","type":"quantitative"},"y2":{"field":"y2"},
        "color":{"field":"s","type":"nominal","scale":{"domain":["约束无滤波","传统无滤波","漂角无滤波","饱和极限"],"range":["#e4302a","#000000","#2f3f9e","#e3e37a"]},"legend":{"orient":"top-right","title":null}},
        "strokeDash":{"field":"s","type":"nominal","scale":{"domain":["约束无滤波","传统无滤波","漂角无滤波","饱和极限"],"range":[[5,3],[6,2,1.5,2],[1.5,1.5],[1,0]]},"legend":{"orient":"top-right","title":null}}}},
      {"data":{"name":"f4c_arr"},"mark":{"type":"rule","color":"#000","strokeWidth":0.6},"encoding":{"x":{"field":"t","type":"quantitative"},"x2":{"field":"t2"},"y":{"field":"y","type":"quantitative"},"y2":{"field":"y2"}}},
      {"data":{"values":[{}]},"mark":{"type":"text","text":"×10¹¹","align":"left","baseline":"bottom","dy":-3,"fontSize":7},"encoding":{"x":{"datum":0,"type":"quantitative"},"y":{"datum":3,"type":"quantitative"}}}
     ]},
     {"layer":[
      {"data":{"values":[{}]},"mark":{"type":"rect","fill":"white","stroke":"#000","strokeWidth":0.6},"encoding":{
        "x":{"datum":0,"type":"quantitative","scale":{"domain":[0,0.246],"range":[15,54],"nice":false,"zero":false},"axis":{"orient":"bottom","offset":-90.7,"values":[0,0.1,0.2],"format":"~g","grid":false,"title":null,"labelFontSize":7,"zindex":1,"labelOverlap":false,"tickCount":20}},
        "x2":{"datum":0.246},
        "y":{"datum":-4.67,"type":"quantitative","scale":{"domain":[-4.67,-1.17],"range":[25.3,4.3],"nice":false,"zero":false},"axis":{"orient":"left","offset":-15,"values":[-4,-3,-2],"grid":false,"title":null,"labelFontSize":6,"zindex":1,"labelOverlap":false,"tickCount":20}},
        "y2":{"datum":-1.17}}},
      {"data":{"name":"f4c_i1"},"mark":{"type":"rule","strokeWidth":1.2},"encoding":{
        "x":{"field":"t","type":"quantitative"},"x2":{"field":"t2"},"y":{"field":"y","type":"quantitative"},"y2":{"field":"y2"},
        "color":{"field":"s","type":"nominal","scale":{"domain":["约束无滤波","传统无滤波","漂角无滤波","饱和极限"],"range":["#e4302a","#000000","#2f3f9e","#e3e37a"]},"legend":{"orient":"top-right","title":null}},
        "strokeDash":{"field":"s","type":"nominal","scale":{"domain":["约束无滤波","传统无滤波","漂角无滤波","饱和极限"],"range":[[5,3],[6,2,1.5,2],[1.5,1.5],[1,0]]},"legend":{"orient":"top-right","title":null}}}}
     ]},
     {"layer":[
      {"data":{"values":[{}]},"mark":{"type":"rect","fill":"white","stroke":"#000","strokeWidth":0.6},"encoding":{
        "x":{"datum":399.975,"type":"quantitative","scale":{"domain":[399.975,400.042],"range":[49,103.7],"nice":false,"zero":false},"axis":{"orient":"bottom","offset":-23.3,"values":[399.98,400,400.02],"format":".2f","grid":false,"title":null,"labelFontSize":5.5,"zindex":1,"labelOverlap":false,"tickCount":20}},
        "x2":{"datum":400.042},
        "y":{"datum":-4.6,"type":"quantitative","scale":{"domain":[-4.6,1.3],"range":[92.7,68],"nice":false,"zero":false},"axis":{"orient":"left","offset":-49,"values":[-4,-3,-2,-1,0,1],"grid":false,"title":null,"labelFontSize":4.5,"zindex":1,"labelOverlap":false,"tickCount":20}},
        "y2":{"datum":1.3}}},
      {"data":{"name":"f4c_i2"},"mark":{"type":"rule","strokeWidth":1.2},"encoding":{
        "x":{"field":"t","type":"quantitative"},"x2":{"field":"t2"},"y":{"field":"y","type":"quantitative"},"y2":{"field":"y2"},
        "color":{"field":"s","type":"nominal","scale":{"domain":["约束无滤波","传统无滤波","漂角无滤波","饱和极限"],"range":["#e4302a","#000000","#2f3f9e","#e3e37a"]},"legend":{"orient":"top-right","title":null}},
        "strokeDash":{"field":"s","type":"nominal","scale":{"domain":["约束无滤波","传统无滤波","漂角无滤波","饱和极限"],"range":[[5,3],[6,2,1.5,2],[1.5,1.5],[1,0]]},"legend":{"orient":"top-right","title":null}}}}
     ]}
    ]},
   {"width":153,"height":116,
    "title":{"text":"(d) 5级海况下带漂角修正和输入约束控制器的艏摇力矩","orient":"bottom","anchor":"middle","frame":"group","offset":2,"fontSize":7.5},
    "layer":[
     {"data":{"name":"f4d"},"mark":{"type":"area","color":"#141414","opacity":0.95},"encoding":{
       "x":{"field":"t","type":"quantitative","scale":{"domain":[0,500],"nice":false},"axis":{"title":"t/s","titleFontStyle":"italic","values":[0,100,200,300,400,500],"grid":false,"labelOverlap":false,"tickCount":20}},
       "y":{"field":"hi","type":"quantitative","scale":{"domain":[-7,6],"nice":false,"zero":false},"axis":{"title":"艏摇力矩/(N·m)","values":[-7,-6,-4,-2,0,2,4,6],"grid":false,"labelOverlap":false,"tickCount":20}},
       "y2":{"field":"lo"}}},
     {"data":{"name":"f4d_s"},"mark":{"type":"rule","strokeWidth":1},"encoding":{
       "x":{"field":"t","type":"quantitative"},"y":{"field":"y","type":"quantitative"},"y2":{"field":"y2"},
       "color":{"field":"s","type":"nominal","scale":{"domain":["约束无滤波"],"range":["#000000"]},"legend":{"orient":"top-right","title":null,"offset":4,"symbolStrokeWidth":2}},
       "strokeDash":{"field":"s","type":"nominal","scale":{"domain":["约束无滤波"],"range":[[1.5,1]]},"legend":{"orient":"top-right","title":null,"offset":4}}}}
    ]}
  ]}
 ]},
 {"title":{"text":"图 5　3 级和 5 级海况下带预滤波器的控制器的航向角及航向误差","subtitle":"Fig. 5　The heading angles and their errors of the controllers with pre-filter in sea states 3 and 5","orient":"bottom","anchor":"middle","frame":"bounds","offset":6,"subtitlePadding":5},
  "spacing":8,
  "resolve":{"scale":{"color":"independent","strokeDash":"independent"}},
  "vconcat":[
   {"spacing":17,"resolve":{"scale":{"color":"independent","strokeDash":"independent"}},"hconcat":[
    {"width":151,"height":117,
     "title":{"text":"(a) 3级海况下3种控制器的航向角","orient":"bottom","anchor":"middle","frame":"group","offset":2},
     "resolve":{"scale":{"x":"independent","y":"independent"}},
     "layer":[
      {"layer":[
       {"data":{"name":"f5a"},"transform":[{"filter":"datum.s==='期待航向'"}],"mark":{"type":"line","strokeWidth":2.2},"encoding":{
         "x":{"field":"t","type":"quantitative","scale":{"domain":[0,500],"nice":false},"axis":{"title":"t/s","titleFontStyle":"italic","values":[0,100,200,300,400,500],"labelOverlap":false,"tickCount":20}},
         "y":{"field":"v","type":"quantitative","scale":{"domain":[-60,32],"nice":false,"zero":false},"axis":{"title":"航向角/(°)","values":[-60,-40,-20,0,20,30],"labelOverlap":false,"tickCount":20}},
         "color":{"field":"s","type":"nominal","scale":{"domain":["期待航向","约束预滤波","传统预滤波","漂角预滤波"],"range":["#e3e37a","#e4302a","#000000","#2f3f9e"]},"legend":{"orient":"bottom-right","title":null}},
         "strokeDash":{"field":"s","type":"nominal","scale":{"domain":["期待航向","约束预滤波","传统预滤波","漂角预滤波"],"range":[[1,0],[5,3],[6,2,1.5,2],[1.5,1.5]]},"legend":{"orient":"bottom-right","title":null}}}},
       {"data":{"name":"f5a"},"transform":[{"filter":"datum.s!=='期待航向'"}],"mark":{"type":"line","strokeWidth":1.2},"encoding":{
         "x":{"field":"t","type":"quantitative"},"y":{"field":"v","type":"quantitative"},
         "color":{"field":"s","type":"nominal","scale":{"domain":["期待航向","约束预滤波","传统预滤波","漂角预滤波"],"range":["#e3e37a","#e4302a","#000000","#2f3f9e"]},"legend":{"orient":"bottom-right","title":null}},
         "strokeDash":{"field":"s","type":"nominal","scale":{"domain":["期待航向","约束预滤波","传统预滤波","漂角预滤波"],"range":[[1,0],[5,3],[6,2,1.5,2],[1.5,1.5]]},"legend":{"orient":"bottom-right","title":null}}}},
       {"data":{"name":"f5a_arr"},"mark":{"type":"rule","color":"#000","strokeWidth":0.6},"encoding":{"x":{"field":"t","type":"quantitative"},"x2":{"field":"t2"},"y":{"field":"v","type":"quantitative"},"y2":{"field":"v2"}}}
      ]},
      {"layer":[
       {"data":{"values":[{}]},"mark":{"type":"rect","fill":"white","stroke":"#000","strokeWidth":0.6},"encoding":{
         "x":{"datum":0,"type":"quantitative","scale":{"domain":[0,16],"range":[47.7,85.3],"nice":false,"zero":false},"axis":{"orient":"bottom","offset":-95.3,"values":[0,10],"grid":false,"title":null,"labelFontSize":7,"zindex":1,"labelOverlap":false,"tickCount":20}},
         "x2":{"datum":16},
         "y":{"datum":14.3,"type":"quantitative","scale":{"domain":[14.3,17.3],"range":[21.7,4],"nice":false,"zero":false},"axis":{"orient":"left","offset":-47.7,"values":[15,16,17],"grid":false,"title":null,"labelFontSize":6,"zindex":1,"labelOverlap":false,"tickCount":20}},
         "y2":{"datum":17.3}}},
       {"data":{"name":"f5a_i1"},"mark":{"type":"line","strokeWidth":1},"encoding":{
         "x":{"field":"t","type":"quantitative"},"y":{"field":"v","type":"quantitative"},
         "color":{"field":"s","type":"nominal","scale":{"domain":["期待航向","约束预滤波","传统预滤波","漂角预滤波"],"range":["#e3e37a","#e4302a","#000000","#2f3f9e"]},"legend":{"orient":"bottom-right","title":null}},
         "strokeDash":{"field":"s","type":"nominal","scale":{"domain":["期待航向","约束预滤波","传统预滤波","漂角预滤波"],"range":[[1,0],[5,3],[6,2,1.5,2],[1.5,1.5]]},"legend":{"orient":"bottom-right","title":null}}}}
      ]},
      {"layer":[
       {"data":{"values":[{}]},"mark":{"type":"rect","fill":"white","stroke":"#000","strokeWidth":0.6},"encoding":{
         "x":{"datum":178,"type":"quantitative","scale":{"domain":[178,236],"range":[85.3,117.7],"nice":false,"zero":false},"axis":{"orient":"bottom","offset":-40.3,"values":[180,200,220],"grid":false,"title":null,"labelFontSize":5,"zindex":1,"labelOverlap":false,"tickCount":20}},
         "x2":{"datum":236},
         "y":{"datum":-19,"type":"quantitative","scale":{"domain":[-19,11],"range":[76.7,58.7],"nice":false,"zero":false},"axis":{"orient":"left","offset":-85.3,"values":[-10,0,10],"grid":false,"title":null,"labelFontSize":6,"zindex":1,"labelOverlap":false,"tickCount":20}},
         "y2":{"datum":11}}},
       {"data":{"name":"f5a_i2"},"mark":{"type":"line","strokeWidth":1},"encoding":{
         "x":{"field":"t","type":"quantitative"},"y":{"field":"v","type":"quantitative"},
         "color":{"field":"s","type":"nominal","scale":{"domain":["期待航向","约束预滤波","传统预滤波","漂角预滤波"],"range":["#e3e37a","#e4302a","#000000","#2f3f9e"]},"legend":{"orient":"bottom-right","title":null}},
         "strokeDash":{"field":"s","type":"nominal","scale":{"domain":["期待航向","约束预滤波","传统预滤波","漂角预滤波"],"range":[[1,0],[5,3],[6,2,1.5,2],[1.5,1.5]]},"legend":{"orient":"bottom-right","title":null}}}}
      ]}
     ]},
    {"width":152,"height":117,
     "title":{"text":"(b) 3级海况下3种控制器的航向角误差","orient":"bottom","anchor":"middle","frame":"group","offset":2},
     "resolve":{"scale":{"x":"independent","y":"independent"}},
     "layer":[
      {"layer":[
       {"data":{"name":"f5b"},"mark":{"type":"line","strokeWidth":1.2},"encoding":{
         "x":{"field":"t","type":"quantitative","scale":{"domain":[0,500],"nice":false},"axis":{"title":"t/s","titleFontStyle":"italic","values":[0,100,200,300,400,500],"labelOverlap":false,"tickCount":20}},
         "y":{"field":"v","type":"quantitative","scale":{"domain":[-55,30],"nice":false,"zero":false},"axis":{"title":"航向角误差/(°)","values":[-55,-40,-20,0,20,30],"labelOverlap":false,"tickCount":20}},
         "color":{"field":"s","type":"nominal","scale":{"domain":["约束预滤波","传统预滤波","漂角预滤波"],"range":["#e4302a","#000000","#2f3f9e"]},"legend":{"orient":"bottom-right","title":null}},
         "strokeDash":{"field":"s","type":"nominal","scale":{"domain":["约束预滤波","传统预滤波","漂角预滤波"],"range":[[5,3],[6,2,1.5,2],[1.5,1.5]]},"legend":{"orient":"bottom-right","title":null}}}},
       {"data":{"name":"f5b_arr"},"mark":{"type":"rule","color":"#000","strokeWidth":0.6},"encoding":{"x":{"field":"t","type":"quantitative"},"x2":{"field":"t2"},"y":{"field":"v","type":"quantitative"},"y2":{"field":"v2"}}}
      ]},
      {"layer":[
       {"data":{"values":[{}]},"mark":{"type":"rect","fill":"white","stroke":"#000","strokeWidth":0.6},"encoding":{
         "x":{"datum":284,"type":"quantitative","scale":{"domain":[284,322],"range":[103,145],"nice":false,"zero":false},"axis":{"orient":"bottom","offset":-95,"values":[300,320],"grid":false,"title":null,"labelFontSize":7,"zindex":1,"labelOverlap":false,"tickCount":20}},
         "x2":{"datum":322},
         "y":{"datum":-5,"type":"quantitative","scale":{"domain":[-5,5],"range":[22,1],"nice":false,"zero":false},"axis":{"orient":"left","offset":-103,"values":[-4,-2,0,2,4],"grid":false,"title":null,"labelFontSize":4.5,"zindex":1,"labelOverlap":false,"tickCount":20}},
         "y2":{"datum":5}}},
       {"data":{"name":"f5b_i1"},"mark":{"type":"line","strokeWidth":1},"encoding":{
         "x":{"field":"t","type":"quantitative"},"y":{"field":"v","type":"quantitative"},
         "color":{"field":"s","type":"nominal","scale":{"domain":["约束预滤波","传统预滤波","漂角预滤波"],"range":["#e4302a","#000000","#2f3f9e"]},"legend":{"orient":"bottom-right","title":null}},
         "strokeDash":{"field":"s","type":"nominal","scale":{"domain":["约束预滤波","传统预滤波","漂角预滤波"],"range":[[5,3],[6,2,1.5,2],[1.5,1.5]]},"legend":{"orient":"bottom-right","title":null}}}}
      ]},
      {"layer":[
       {"data":{"values":[{}]},"mark":{"type":"rect","fill":"white","stroke":"#000","strokeWidth":0.6},"encoding":{
         "x":{"datum":89,"type":"quantitative","scale":{"domain":[89,126],"range":[51.7,96.3],"nice":false,"zero":false},"axis":{"orient":"bottom","offset":-31,"values":[100,120],"grid":false,"title":null,"labelFontSize":7,"zindex":1,"labelOverlap":false,"tickCount":20}},
         "x2":{"datum":126},
         "y":{"datum":-5,"type":"quantitative","scale":{"domain":[-5,5],"range":[86,64],"nice":false,"zero":false},"axis":{"orient":"left","offset":-51.7,"values":[-4,-2,0,2,4],"grid":false,"title":null,"labelFontSize":4.5,"zindex":1,"labelOverlap":false,"tickCount":20}},
         "y2":{"datum":5}}},
       {"data":{"name":"f5b_i2"},"mark":{"type":"line","strokeWidth":1},"encoding":{
         "x":{"field":"t","type":"quantitative"},"y":{"field":"v","type":"quantitative"},
         "color":{"field":"s","type":"nominal","scale":{"domain":["约束预滤波","传统预滤波","漂角预滤波"],"range":["#e4302a","#000000","#2f3f9e"]},"legend":{"orient":"bottom-right","title":null}},
         "strokeDash":{"field":"s","type":"nominal","scale":{"domain":["约束预滤波","传统预滤波","漂角预滤波"],"range":[[5,3],[6,2,1.5,2],[1.5,1.5]]},"legend":{"orient":"bottom-right","title":null}}}}
      ]}
     ]}
   ]},
   {"spacing":17,"resolve":{"scale":{"color":"independent","strokeDash":"independent"}},"hconcat":[
    {"width":151,"height":116,
     "title":{"text":"(c) 5级海况下3种控制器的航向角","orient":"bottom","anchor":"middle","frame":"group","offset":2},
     "resolve":{"scale":{"x":"independent","y":"independent"}},
     "layer":[
      {"layer":[
       {"data":{"name":"f5c"},"transform":[{"filter":"datum.s==='期待航向'"}],"mark":{"type":"line","strokeWidth":2.2},"encoding":{
         "x":{"field":"t","type":"quantitative","scale":{"domain":[0,500],"nice":false},"axis":{"title":"t/s","titleFontStyle":"italic","values":[0,100,200,300,400,500],"labelOverlap":false,"tickCount":20}},
         "y":{"field":"v","type":"quantitative","scale":{"domain":[-40,30],"nice":false,"zero":false},"axis":{"title":"航向角/(°)","values":[-40,-20,0,20,30],"labelOverlap":false,"tickCount":20}},
         "color":{"field":"s","type":"nominal","scale":{"domain":["期待航向","约束预滤波","传统预滤波","漂角预滤波"],"range":["#e3e37a","#e4302a","#000000","#2f3f9e"]},"legend":{"orient":"bottom-right","title":null}},
         "strokeDash":{"field":"s","type":"nominal","scale":{"domain":["期待航向","约束预滤波","传统预滤波","漂角预滤波"],"range":[[1,0],[5,3],[6,2,1.5,2],[1.5,1.5]]},"legend":{"orient":"bottom-right","title":null}}}},
       {"data":{"name":"f5c"},"transform":[{"filter":"datum.s!=='期待航向'"}],"mark":{"type":"line","strokeWidth":1.2},"encoding":{
         "x":{"field":"t","type":"quantitative"},"y":{"field":"v","type":"quantitative"},
         "color":{"field":"s","type":"nominal","scale":{"domain":["期待航向","约束预滤波","传统预滤波","漂角预滤波"],"range":["#e3e37a","#e4302a","#000000","#2f3f9e"]},"legend":{"orient":"bottom-right","title":null}},
         "strokeDash":{"field":"s","type":"nominal","scale":{"domain":["期待航向","约束预滤波","传统预滤波","漂角预滤波"],"range":[[1,0],[5,3],[6,2,1.5,2],[1.5,1.5]]},"legend":{"orient":"bottom-right","title":null}}}},
       {"data":{"name":"f5c_arr"},"mark":{"type":"rule","color":"#000","strokeWidth":0.6},"encoding":{"x":{"field":"t","type":"quantitative"},"x2":{"field":"t2"},"y":{"field":"v","type":"quantitative"},"y2":{"field":"v2"}}}
      ]},
      {"layer":[
       {"data":{"values":[{}]},"mark":{"type":"rect","fill":"white","stroke":"#000","strokeWidth":0.6},"encoding":{
         "x":{"datum":0,"type":"quantitative","scale":{"domain":[0,15],"range":[44,83],"nice":false,"zero":false},"axis":{"orient":"bottom","offset":-94,"values":[0,10],"grid":false,"title":null,"labelFontSize":7,"zindex":1,"labelOverlap":false,"tickCount":20}},
         "x2":{"datum":15},
         "y":{"datum":13.5,"type":"quantitative","scale":{"domain":[13.5,16.5],"range":[22,0],"nice":false,"zero":false},"axis":{"orient":"left","offset":-44,"values":[14,15,16],"grid":false,"title":null,"labelFontSize":6.5,"zindex":1,"labelOverlap":false,"tickCount":20}},
         "y2":{"datum":16.5}}},
       {"data":{"name":"f5c_i1"},"mark":{"type":"line","strokeWidth":1},"encoding":{
         "x":{"field":"t","type":"quantitative"},"y":{"field":"v","type":"quantitative"},
         "color":{"field":"s","type":"nominal","scale":{"domain":["期待航向","约束预滤波","传统预滤波","漂角预滤波"],"range":["#e3e37a","#e4302a","#000000","#2f3f9e"]},"legend":{"orient":"bottom-right","title":null}},
         "strokeDash":{"field":"s","type":"nominal","scale":{"domain":["期待航向","约束预滤波","传统预滤波","漂角预滤波"],"range":[[1,0],[5,3],[6,2,1.5,2],[1.5,1.5]]},"legend":{"orient":"bottom-right","title":null}}}}
      ]},
      {"layer":[
       {"data":{"values":[{}]},"mark":{"type":"rect","fill":"white","stroke":"#000","strokeWidth":0.6},"encoding":{
         "x":{"datum":191,"type":"quantitative","scale":{"domain":[191,223],"range":[76.3,115.3],"nice":false,"zero":false},"axis":{"orient":"bottom","offset":-44,"values":[200,220],"grid":false,"title":null,"labelFontSize":6.5,"zindex":1,"labelOverlap":false,"tickCount":20}},
         "x2":{"datum":223},
         "y":{"datum":-10,"type":"quantitative","scale":{"domain":[-10,10],"range":[72,57.7],"nice":false,"zero":false},"axis":{"orient":"left","offset":-76.3,"values":[-10,0,10],"grid":false,"title":null,"labelFontSize":4.5,"zindex":1,"labelOverlap":false,"tickCount":20}},
         "y2":{"datum":10}}},
       {"data":{"name":"f5c_i2"},"mark":{"type":"line","strokeWidth":1},"encoding":{
         "x":{"field":"t","type":"quantitative"},"y":{"field":"v","type":"quantitative"},
         "color":{"field":"s","type":"nominal","scale":{"domain":["期待航向","约束预滤波","传统预滤波","漂角预滤波"],"range":["#e3e37a","#e4302a","#000000","#2f3f9e"]},"legend":{"orient":"bottom-right","title":null}},
         "strokeDash":{"field":"s","type":"nominal","scale":{"domain":["期待航向","约束预滤波","传统预滤波","漂角预滤波"],"range":[[1,0],[5,3],[6,2,1.5,2],[1.5,1.5]]},"legend":{"orient":"bottom-right","title":null}}}}
      ]}
     ]},
    {"width":152,"height":116,
     "title":{"text":"(d) 5级海况下3种控制器的航向角误差","orient":"bottom","anchor":"middle","frame":"group","offset":2},
     "resolve":{"scale":{"x":"independent","y":"independent"}},
     "layer":[
      {"layer":[
       {"data":{"name":"f5d"},"mark":{"type":"line","strokeWidth":1.2},"encoding":{
         "x":{"field":"t","type":"quantitative","scale":{"domain":[0,500],"nice":false},"axis":{"title":"t/s","titleFontStyle":"italic","values":[0,100,200,300,400,500],"labelOverlap":false,"tickCount":20}},
         "y":{"field":"v","type":"quantitative","scale":{"domain":[-50,30],"nice":false,"zero":false},"axis":{"title":"航向角误差/(°)","values":[-50,-40,-20,0,20,30],"labelOverlap":false,"tickCount":20}},
         "color":{"field":"s","type":"nominal","scale":{"domain":["约束预滤波","传统预滤波","漂角预滤波"],"range":["#e4302a","#000000","#2f3f9e"]},"legend":{"orient":"bottom-right","title":null}},
         "strokeDash":{"field":"s","type":"nominal","scale":{"domain":["约束预滤波","传统预滤波","漂角预滤波"],"range":[[5,3],[6,2,1.5,2],[1.5,1.5]]},"legend":{"orient":"bottom-right","title":null}}}},
       {"data":{"name":"f5d_arr"},"mark":{"type":"rule","color":"#000","strokeWidth":0.6},"encoding":{"x":{"field":"t","type":"quantitative"},"x2":{"field":"t2"},"y":{"field":"v","type":"quantitative"},"y2":{"field":"v2"}}}
      ]},
      {"layer":[
       {"data":{"values":[{}]},"mark":{"type":"rect","fill":"white","stroke":"#000","strokeWidth":0.6},"encoding":{
         "x":{"datum":-0.3,"type":"quantitative","scale":{"domain":[-0.3,16.9],"range":[15,55],"nice":false,"zero":false},"axis":{"orient":"bottom","offset":-95,"values":[0,10],"grid":false,"title":null,"labelFontSize":7,"zindex":1,"labelOverlap":false,"tickCount":20}},
         "x2":{"datum":16.9},
         "y":{"datum":-1.5,"type":"quantitative","scale":{"domain":[-1.5,1.5],"range":[21,0],"nice":false,"zero":false},"axis":{"orient":"left","offset":-15,"values":[-1,0,1],"grid":false,"title":null,"labelFontSize":6,"zindex":1,"labelOverlap":false,"tickCount":20}},
         "y2":{"datum":1.5}}},
       {"data":{"name":"f5d_i1"},"mark":{"type":"line","strokeWidth":1},"encoding":{
         "x":{"field":"t","type":"quantitative"},"y":{"field":"v","type":"quantitative"},
         "color":{"field":"s","type":"nominal","scale":{"domain":["约束预滤波","传统预滤波","漂角预滤波"],"range":["#e4302a","#000000","#2f3f9e"]},"legend":{"orient":"bottom-right","title":null}},
         "strokeDash":{"field":"s","type":"nominal","scale":{"domain":["约束预滤波","传统预滤波","漂角预滤波"],"range":[[5,3],[6,2,1.5,2],[1.5,1.5]]},"legend":{"orient":"bottom-right","title":null}}}}
      ]},
      {"layer":[
       {"data":{"values":[{}]},"mark":{"type":"rect","fill":"white","stroke":"#000","strokeWidth":0.6},"encoding":{
         "x":{"datum":288.6,"type":"quantitative","scale":{"domain":[288.6,322.4],"range":[103,145],"nice":false,"zero":false},"axis":{"orient":"bottom","offset":-94,"values":[300,320],"grid":false,"title":null,"labelFontSize":7,"zindex":1,"labelOverlap":false,"tickCount":20}},
         "x2":{"datum":322.4},
         "y":{"datum":-1,"type":"quantitative","scale":{"domain":[-1,5],"range":[22,0],"nice":false,"zero":false},"axis":{"orient":"left","offset":-103,"values":[0,2,4],"grid":false,"title":null,"labelFontSize":5,"zindex":1,"labelOverlap":false,"tickCount":20}},
         "y2":{"datum":5}}},
       {"data":{"name":"f5d_i2"},"mark":{"type":"line","strokeWidth":1},"encoding":{
         "x":{"field":"t","type":"quantitative"},"y":{"field":"v","type":"quantitative"},
         "color":{"field":"s","type":"nominal","scale":{"domain":["约束预滤波","传统预滤波","漂角预滤波"],"range":["#e4302a","#000000","#2f3f9e"]},"legend":{"orient":"bottom-right","title":null}},
         "strokeDash":{"field":"s","type":"nominal","scale":{"domain":["约束预滤波","传统预滤波","漂角预滤波"],"range":[[5,3],[6,2,1.5,2],[1.5,1.5]]},"legend":{"orient":"bottom-right","title":null}}}}
      ]},
      {"layer":[
       {"data":{"values":[{}]},"mark":{"type":"rect","fill":"white","stroke":"#000","strokeWidth":0.6},"encoding":{
         "x":{"datum":87.4,"type":"quantitative","scale":{"domain":[87.4,120.5],"range":[55,98],"nice":false,"zero":false},"axis":{"orient":"bottom","offset":-31,"values":[90,100,110],"grid":false,"title":null,"labelFontSize":7,"zindex":1,"labelOverlap":false,"tickCount":20}},
         "x2":{"datum":120.5},
         "y":{"datum":-1.9,"type":"quantitative","scale":{"domain":[-1.9,4.6],"range":[85,62],"nice":false,"zero":false},"axis":{"orient":"left","offset":-55,"values":[0,2,4],"grid":false,"title":null,"labelFontSize":6.5,"zindex":1,"labelOverlap":false,"tickCount":20}},
         "y2":{"datum":4.6}}},
       {"data":{"name":"f5d_i3"},"mark":{"type":"line","strokeWidth":1},"encoding":{
         "x":{"field":"t","type":"quantitative"},"y":{"field":"v","type":"quantitative"},
         "color":{"field":"s","type":"nominal","scale":{"domain":["约束预滤波","传统预滤波","漂角预滤波"],"range":["#e4302a","#000000","#2f3f9e"]},"legend":{"orient":"bottom-right","title":null}},
         "strokeDash":{"field":"s","type":"nominal","scale":{"domain":["约束预滤波","传统预滤波","漂角预滤波"],"range":[[5,3],[6,2,1.5,2],[1.5,1.5]]},"legend":{"orient":"bottom-right","title":null}}}}
      ]}
     ]}
   ]}
  ]}
]
}
